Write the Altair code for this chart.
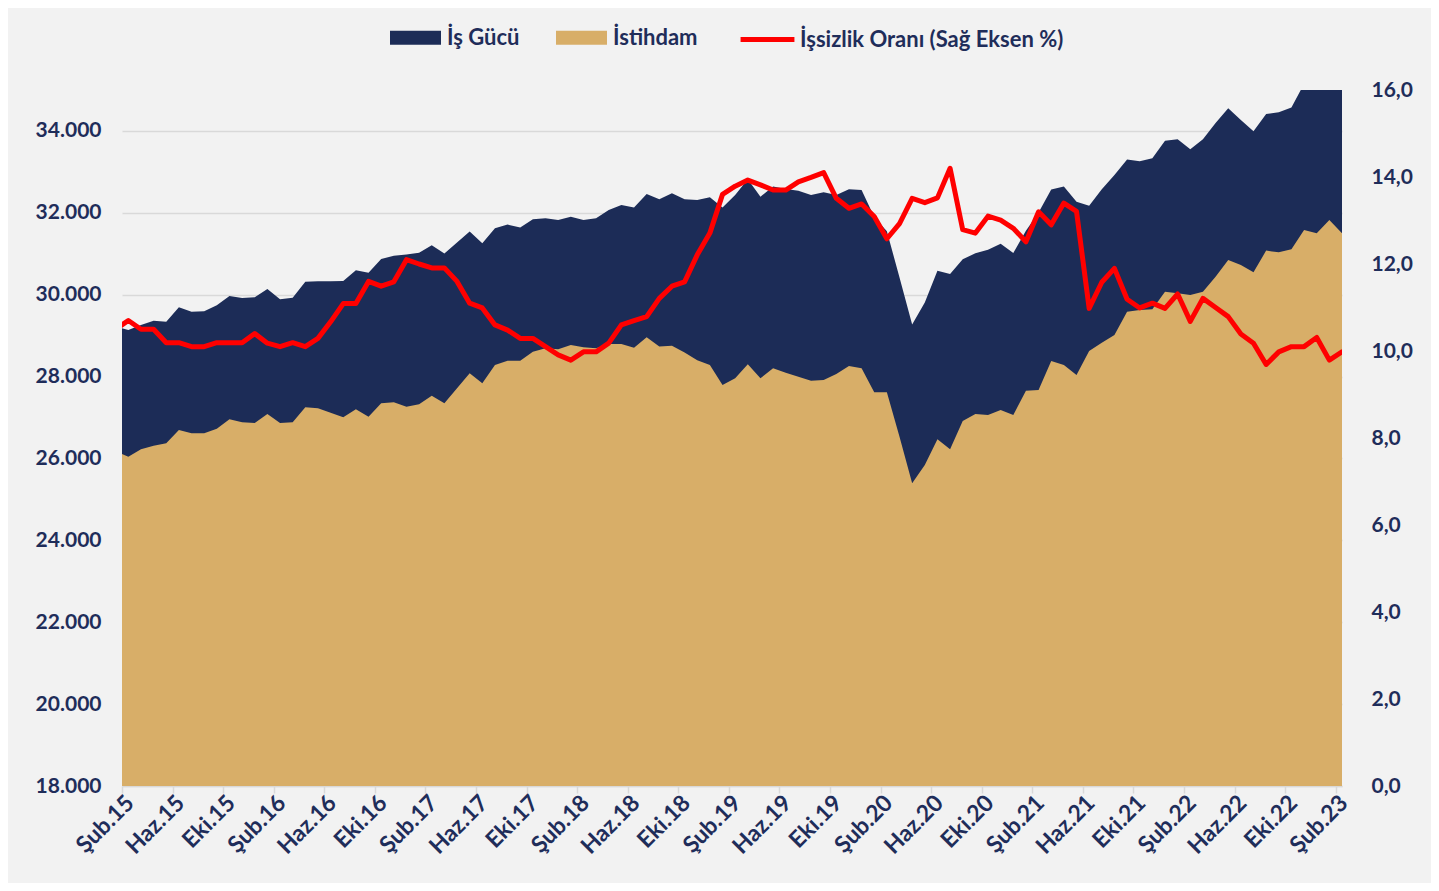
import json
import altair as alt
import pandas as pd

# ---- x-axis tick labels (every 4th month) ----
tick_labels = ["Şub.15", "Haz.15", "Eki.15", "Şub.16", "Haz.16", "Eki.16", "Şub.17",
               "Haz.17", "Eki.17", "Şub.18", "Haz.18", "Eki.18", "Şub.19", "Haz.19",
               "Eki.19", "Şub.20", "Haz.20", "Eki.20", "Şub.21", "Haz.21", "Eki.21",
               "Şub.22", "Haz.22", "Eki.22", "Şub.23"]

# ---- monthly series, Oca.15 (partly visible at the left edge) .. Şub.23 ----
is_gucu = [29222, 29139, 29261, 29366, 29342, 29693, 29586, 29595, 29742, 29969,
           29920, 29937, 30140, 29888, 29928, 30318, 30330, 30330, 30336, 30596,
           30539, 30873, 30950, 30984, 31027, 31211, 31004, 31276, 31541, 31256,
           31623, 31712, 31640, 31842, 31866, 31826, 31907, 31826, 31866, 32070,
           32192, 32127, 32461, 32331, 32478, 32331, 32314, 32380, 32130, 32436,
           32820, 32395, 32640, 32580, 32540, 32436, 32500, 32436, 32575, 32559,
           31900, 31550, 30420, 29270, 29810, 30585, 30503, 30865, 31012, 31100,
           31247, 31020, 31560, 32010, 32567, 32640, 32273, 32175, 32575, 32925,
           33300, 33259, 33332, 33759, 33796, 33552, 33796, 34195, 34554, 34268,
           33990, 34411, 34456, 34574, 35150, 35250, 35350, 35300]

istihdam = [26176, 26044, 26224, 26313, 26371, 26696, 26615, 26615, 26728, 26957,
            26884, 26867, 27087, 26867, 26884, 27250, 27226, 27119, 27006, 27201,
            27021, 27348, 27372, 27265, 27323, 27534, 27348, 27714, 28081, 27836,
            28284, 28389, 28389, 28609, 28691, 28667, 28772, 28716, 28691, 28797,
            28797, 28707, 28960, 28732, 28756, 28590, 28398, 28284, 27795, 27958,
            28301, 27958, 28203, 28096, 27998, 27901, 27917, 28064, 28259, 28203,
            27616, 27616, 26533, 25394, 25840, 26468, 26224, 26916, 27087, 27062,
            27184, 27062, 27657, 27673, 28381, 28284, 28040, 28626, 28829, 29017,
            29586, 29627, 29643, 30075, 30034, 29994, 30075, 30441, 30849, 30726,
            30548, 31077, 31035, 31109, 31581, 31500, 31826, 31500]

issizlik = [10.50, 10.70, 10.50, 10.50, 10.19, 10.19, 10.10, 10.10, 10.19, 10.19,
            10.19, 10.40, 10.18, 10.10, 10.19, 10.10, 10.29, 10.67, 11.09, 11.09,
            11.60, 11.49, 11.59, 12.10, 12.00, 11.91, 11.91, 11.60, 11.10, 10.99,
            10.60, 10.48, 10.29, 10.29, 10.10, 9.91, 9.79, 9.98, 9.98, 10.18,
            10.60, 10.70, 10.79, 11.21, 11.49, 11.59, 12.21, 12.71, 13.60, 13.79,
            13.93, 13.82, 13.70, 13.70, 13.89, 13.99, 14.10, 13.51, 13.28, 13.38,
            13.09, 12.58, 12.93, 13.51, 13.41, 13.52, 14.20, 12.79, 12.71, 13.10,
            13.01, 12.82, 12.51, 13.20, 12.90, 13.40, 13.21, 10.98, 11.58, 11.90,
            11.19, 10.99, 11.10, 10.98, 11.31, 10.68, 11.21, 11.00, 10.79, 10.39,
            10.18, 9.69, 9.98, 10.10, 10.10, 10.31, 9.79, 9.98]

series_names = ["İş Gücü", "İstihdam", "İşsizlik Oranı (Sağ Eksen %)"]
colors = ["#1c2c57", "#d8ae68", "#ff0000"]

NAVY_TEXT = "#1f2d5a"
FONT = "Lato"

n = len(is_gucu)
df = pd.DataFrame({
    "i": list(range(-1, n - 1)),
    "is_gucu": is_gucu,
    "istihdam": istihdam,
    "issizlik": issizlik,
    "s1": series_names[0],
    "s2": series_names[1],
    "s3": series_names[2],
})

label_expr = json.dumps(tick_labels, ensure_ascii=False) + "[round(datum.value / 4)]"

x_enc = alt.X(
    "i:Q",
    scale=alt.Scale(domain=[-0.5, 96], nice=False, zero=False),
    axis=alt.Axis(
        values=list(range(0, 97, 4)),
        labelExpr=label_expr,
        labelAngle=-45,
        labelAlign="right",
        labelBaseline="middle",
        labelPadding=6,
        labelOffset=8,
        tickOffset=-6.3,
        labelOverlap=False,
        labelBound=False,
        labelFlush=False,
        title=None,
        grid=False,
        domain=True,
        domainColor="#d9d9d9",
        domainWidth=1.5,
        ticks=True,
        tickColor="#d9d9d9",
        tickWidth=1.5,
        tickSize=7,
        labelFontSize=23,
    ),
)

y_left_scale = alt.Scale(domain=[18000, 35000], nice=False, zero=False)
y_left_axis = alt.Axis(
    values=list(range(18000, 34001, 2000)),
    labelExpr="replace(format(datum.value, ','), ',', '.')",
    grid=True,
    gridColor="#d9d9d9",
    gridWidth=1.5,
    domain=False,
    ticks=False,
    labelPadding=21,
    title=None,
    labelFontSize=21,
)

fill_scale = alt.Scale(domain=series_names[:2], range=colors[:2])
fill_legend = alt.Legend(
    title=None,
    orient="none",
    legendX=268,
    legendY=-78,
    direction="horizontal",
    symbolType="M-1,-0.27H1V0.27H-1Z",
    symbolSize=2600,
    symbolStrokeWidth=0,
    symbolOpacity=1,
    labelFont=FONT,
    labelFontSize=22,
    labelFontWeight="bold",
    labelColor=NAVY_TEXT,
    labelOffset=6,
    labelLimit=400,
    columnPadding=36,
)

area_lf = alt.Chart(df).mark_area(opacity=1, clip=True).encode(
    x=x_enc,
    y=alt.Y("is_gucu:Q", scale=y_left_scale, axis=y_left_axis),
    fill=alt.Fill("s1:N", scale=fill_scale, legend=fill_legend),
)

area_emp = alt.Chart(df).mark_area(opacity=1, clip=True).encode(
    x=alt.X("i:Q"),
    y=alt.Y("istihdam:Q"),
    fill=alt.Fill("s2:N", scale=fill_scale, legend=fill_legend),
)

left = alt.layer(area_lf, area_emp)

line = alt.Chart(df).mark_line(
    strokeWidth=5, strokeJoin="round", strokeCap="round", clip=True
).encode(
    x=alt.X("i:Q"),
    y=alt.Y(
        "issizlik:Q",
        scale=alt.Scale(domain=[0, 16], nice=False, zero=True),
        axis=alt.Axis(
            orient="right",
            values=list(range(0, 17, 2)),
            labelExpr="replace(format(datum.value, '.1f'), '.', ',')",
            grid=False,
            domain=False,
            ticks=False,
            labelPadding=29,
            title=None,
            labelFontSize=21,
        ),
    ),
    stroke=alt.Stroke(
        "s3:N",
        scale=alt.Scale(domain=[series_names[2]], range=[colors[2]]),
        legend=alt.Legend(
            title=None,
            orient="none",
            legendX=616,
            legendY=-80,
            symbolType="stroke",
            symbolSize=2900,
            symbolStrokeWidth=5,
            labelFont=FONT,
            labelFontSize=22,
            labelFontWeight="bold",
            labelColor=NAVY_TEXT,
            labelOffset=3,
            labelLimit=500,
        ),
    ),
)

chart = (
    alt.layer(left, line)
    .resolve_scale(y="independent", fill="shared")
    .properties(
        width=1220,
        height=696,
        autosize=alt.AutoSizeParams(type="none"),
        padding={"left": 114, "top": 82, "right": 89, "bottom": 97},
    )
    .configure(background="#f2f2f2")
    .configure_view(strokeWidth=0)
    .configure_axis(
        labelFont=FONT,
        labelFontWeight="bold",
        labelColor=NAVY_TEXT,
    )
)

chart.save("out.html", embed_options={"renderer": "svg", "actions": False})
